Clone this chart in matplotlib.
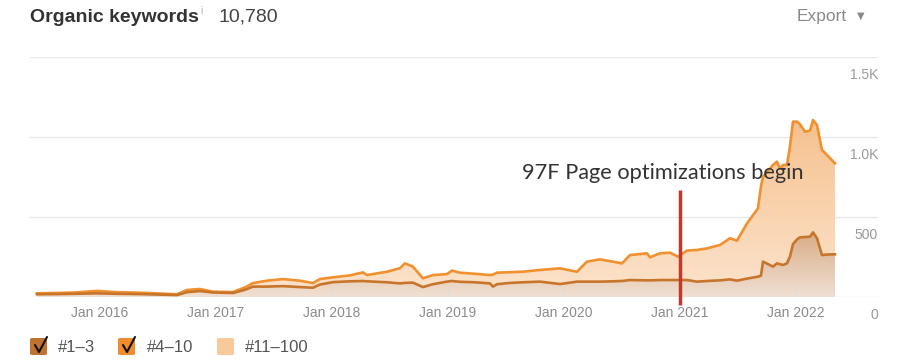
import numpy as np
import matplotlib
matplotlib.use('Agg')
import matplotlib.pyplot as plt
from matplotlib.colors import LinearSegmentedColormap
from matplotlib.patches import FancyBboxPatch
from matplotlib.lines import Line2D

# decimal years of the sampled points
dates = [2015.457, 2015.612, 2015.784, 2015.974, 2016.147, 2016.345, 2016.517, 2016.664,
         2016.750, 2016.862, 2016.974, 2017.147, 2017.250, 2017.319, 2017.440, 2017.578,
         2017.724, 2017.836, 2017.897, 2018.009, 2018.155, 2018.267, 2018.302, 2018.474,
         2018.586, 2018.629, 2018.698, 2018.784, 2018.871, 2018.991, 2019.034, 2019.103,
         2019.233, 2019.362, 2019.388, 2019.422, 2019.534, 2019.647, 2019.793, 2019.966,
         2020.112, 2020.198, 2020.310, 2020.422, 2020.500, 2020.569, 2020.716, 2020.741,
         2020.828, 2020.914, 2020.983, 2021.060, 2021.147, 2021.233, 2021.345, 2021.431,
         2021.491, 2021.578, 2021.672, 2021.698, 2021.716, 2021.802, 2021.836, 2021.862,
         2021.888, 2021.922, 2021.948, 2021.974, 2022.009, 2022.034, 2022.078, 2022.121,
         2022.147, 2022.181, 2022.224, 2022.267, 2022.336]

# top line: #1-3 + #4-10 stacked
top_4_10 = [23, 25, 28, 38, 30, 27, 22, 17,
            44, 50, 33, 31, 60, 87, 102, 112,
            102, 87, 112, 123, 135, 154, 137, 158,
            180, 210, 190, 117, 137, 143, 165, 152,
            145, 137, 140, 152, 155, 158, 169, 179,
            158, 221, 235, 221, 210, 262, 273, 248,
            273, 277, 252, 290, 294, 304, 325, 367,
            352, 460, 554, 690, 752, 825, 846, 804,
            825, 825, 940, 1096, 1096, 1080, 1033, 1040,
            1106, 1075, 919, 888, 835]

# bottom line: #1-3
pos_1_3 = [17, 18, 20, 23, 20, 18, 15, 12,
           30, 37, 28, 25, 45, 65, 65, 68,
           62, 58, 78, 93, 98, 100, 98, 92,
           85, 88, 90, 62, 80, 96, 100, 95,
           92, 85, 65, 80, 88, 92, 96, 81,
           96, 96, 96, 98, 100, 106, 104, 104,
           106, 106, 106, 106, 96, 100, 104, 110,
           102, 115, 127, 133, 221, 190, 210, 205,
           200, 210, 252, 330, 360, 373, 375, 377,
           404, 367, 262, 265, 267]

years = [2016, 2017, 2018, 2019, 2020, 2021, 2022]
y_ticks = [0, 500, 1000, 1500]
y_labels = ['0', '500', '1.0K', '1.5K']

event_date = 2021.0
event_text = '97F Page optimizations begin'

W, H = 900, 363
fig = plt.figure(figsize=(W / 100, H / 100), dpi=100)
ax = fig.add_axes([30 / W, (H - 297) / H, (878 - 30) / W, (297 - 57) / H])

x = np.array(dates)
top = np.array(top_4_10, dtype=float)
low = np.array(pos_1_3, dtype=float)


def gradient_fill(y1, y0, c_bot, c_top, vmax, z):
    poly = ax.fill_between(x, y0, y1, color='none', lw=0)
    path = poly.get_paths()[0]
    cmap = LinearSegmentedColormap.from_list('g', [c_bot, c_top])
    grad = np.linspace(0, 1, 256).reshape(-1, 1)
    im = ax.imshow(grad, cmap=cmap, aspect='auto', origin='lower',
                   extent=[x.min(), x.max(), 0, vmax], zorder=z)
    im.set_clip_path(path, transform=ax.transData)


gradient_fill(top, low, '#fce4cd', '#f6c08c', 1150, 1)
gradient_fill(low, np.zeros_like(low), '#f0e0d3', '#d6a77e', 450, 2)
ax.plot(x, top, color='#f0902e', lw=1.9, zorder=4, solid_joinstyle='round')
ax.plot(x, low, color='#c8752c', lw=1.9, zorder=4, solid_joinstyle='round')

ax.set_xlim(2015.397, 2022.707)
ax.set_ylim(0, 1500)
ax.set_aspect('auto')

for v in y_ticks:
    ax.axhline(v, color='#e9e9e9', lw=1, zorder=0)
for yr in years:
    ax.plot([yr, yr], [0, 45], color='#dddddd', lw=1, zorder=3)

for s in ax.spines.values():
    s.set_visible(False)
ax.set_xticks([])
ax.set_yticks([])

# axis labels
for yr in years:
    ax.text(yr, -100, 'Jan %d' % yr, ha='center', va='center', fontsize=10,
            color='#8c8c8c', family='Liberation Sans')
for v, lab in zip(y_ticks, y_labels):
    ax.text(2022.707, v - 112, lab, ha='right', va='center', fontsize=10,
            color='#9a9a9a', family='Liberation Sans', clip_on=False)

# event marker
ax.plot([event_date, event_date], [669, -50], color='#c0392b', lw=2.5,
        zorder=5, clip_on=False, solid_capstyle='butt')
ax.text(2019.638, 775, event_text, ha='left', va='center', fontsize=15.7,
        color='#333333', family='Lato', zorder=6)

# header
fig.text(30 / W, 1 - 17 / H, 'Organic keywords', fontsize=14, fontweight='bold',
         color='#333333', family='Liberation Sans', va='center')
fig.text(200 / W, 1 - 11 / H, 'i', fontsize=7, color='#aaaaaa',
         family='Liberation Sans', va='center')
fig.text(218 / W, 1 - 17 / H, '10,780', fontsize=14, color='#444444',
         family='Liberation Sans', va='center')
fig.text(797 / W, 1 - 16 / H, 'Export', fontsize=12.5, color='#8a8a8a',
         family='Liberation Sans', va='center')
fig.text(861 / W, 1 - 16 / H, '\u25bc', fontsize=7, color='#8a8a8a',
         family='DejaVu Sans', va='center', ha='center')

# legend
legend_items = ['#1\u20133', '#4\u201310', '#11\u2013100']
legend_cols = ['#c0732f', '#f08c2e', '#f7c99b']
legend_checked = [True, True, False]
box_x = [30, 118, 217]
label_x = [58, 147, 245]
for bx, lx, lab, col, chk in zip(box_x, label_x, legend_items, legend_cols, legend_checked):
    fig.patches.append(FancyBboxPatch((bx / W, 1 - 355 / H), 17 / W, 17 / H,
                                      boxstyle='round,pad=0,rounding_size=0.003',
                                      transform=fig.transFigure, fc=col, ec='none'))
    if chk:
        fig.lines.append(Line2D([(bx + 5) / W, (bx + 9) / W, (bx + 17) / W],
                                [1 - 345 / H, 1 - 352 / H, 1 - 337 / H],
                                transform=fig.transFigure, color='#111111', lw=1.5,
                                solid_capstyle='round'))
    fig.text(lx / W, 1 - 347 / H, lab, fontsize=12, color='#555555',
             family='Liberation Sans', va='center')

fig.savefig('out.png', dpi=100)
